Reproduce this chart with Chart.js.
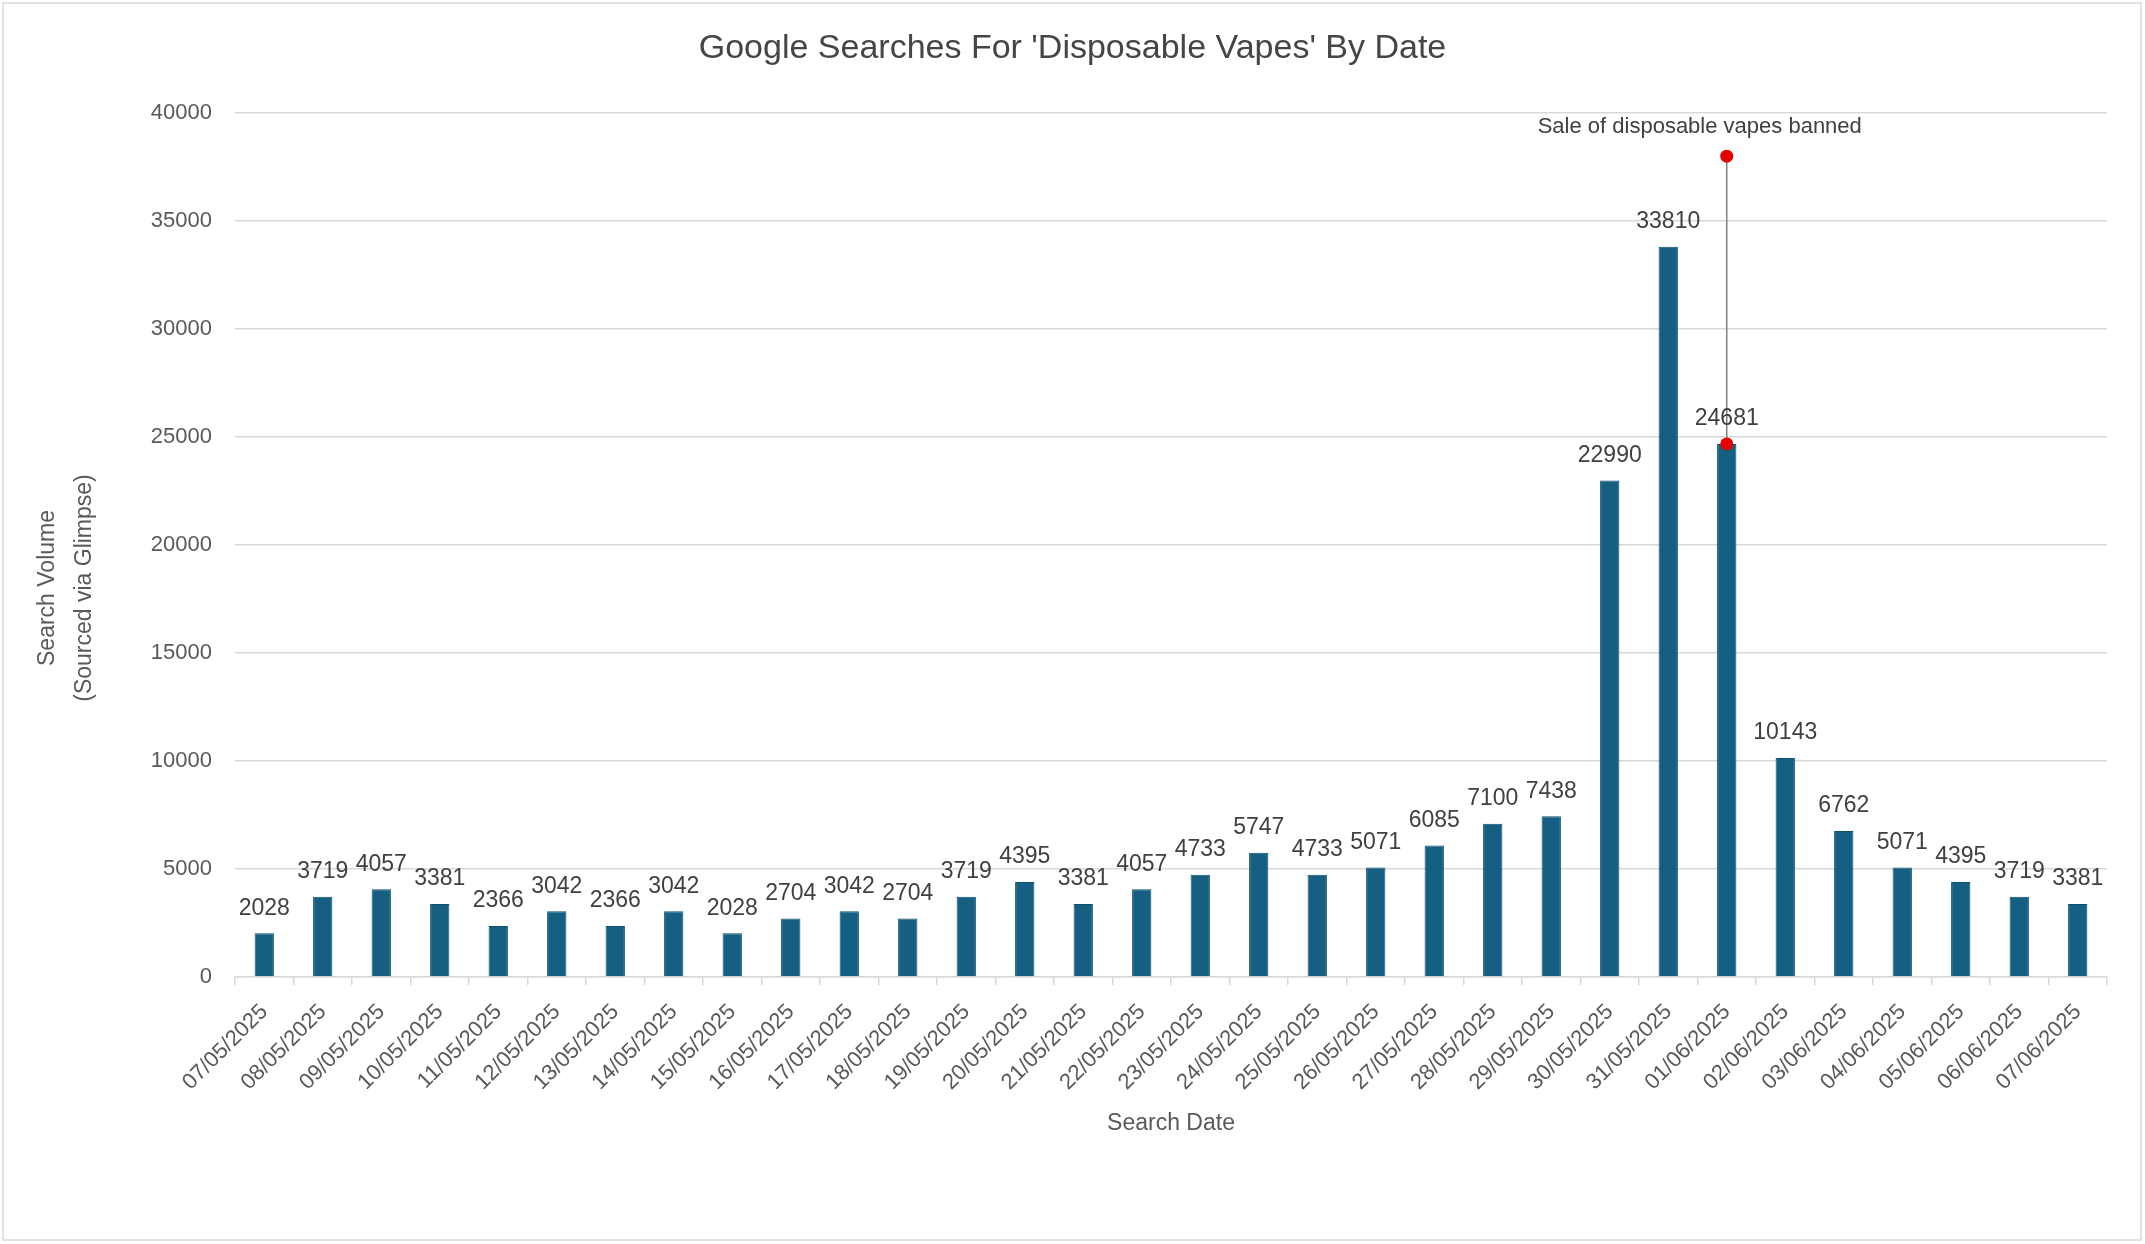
<!DOCTYPE html>
<html>
<head>
<meta charset="utf-8">
<script src="https://cdn.jsdelivr.net/npm/chart.js@4.4.1/dist/chart.umd.min.js"></script>
<style>
html,body{margin:0;padding:0;background:#ffffff;}
canvas{display:block;}
</style>
</head>
<body>
<canvas id="c" width="2145" height="1244"></canvas>
<script>
const chartTitle = "Google Searches For 'Disposable Vapes' By Date";
const xAxisTitle = 'Search Date';
const yAxisTitle = ['Search Volume', '(Sourced via Glimpse)'];

const dates = ['07/05/2025','08/05/2025','09/05/2025','10/05/2025','11/05/2025','12/05/2025','13/05/2025','14/05/2025','15/05/2025','16/05/2025','17/05/2025','18/05/2025','19/05/2025','20/05/2025','21/05/2025','22/05/2025','23/05/2025','24/05/2025','25/05/2025','26/05/2025','27/05/2025','28/05/2025','29/05/2025','30/05/2025','31/05/2025','01/06/2025','02/06/2025','03/06/2025','04/06/2025','05/06/2025','06/06/2025','07/06/2025'];
const searchVolume = [2028,3719,4057,3381,2366,3042,2366,3042,2028,2704,3042,2704,3719,4395,3381,4057,4733,5747,4733,5071,6085,7100,7438,22990,33810,24681,10143,6762,5071,4395,3719,3381];

const banDate = '01/06/2025';
const banLineValues = [38000, 24681];
const banLabel = 'Sale of disposable vapes banned';

const yMin = 0, yMax = 40000, yStep = 5000;

const FONT = "'Liberation Sans', Arial, sans-serif";
const GREY = '#595959';
const BAR_DATASET = 1;

const framePlugin = {
  id: 'frame',
  beforeDraw(chart) {
    const ctx = chart.ctx;
    ctx.save();
    ctx.fillStyle = '#ffffff';
    ctx.fillRect(0, 0, chart.width, chart.height);
    ctx.strokeStyle = '#d9d9d9';
    ctx.lineWidth = 1.5;
    ctx.strokeRect(3, 3, chart.width - 7, chart.height - 7);
    ctx.restore();
  }
};

const valueLabelPlugin = {
  id: 'valueLabels',
  afterDatasetsDraw(chart) {
    const ctx = chart.ctx;
    const meta = chart.getDatasetMeta(BAR_DATASET);
    const values = chart.data.datasets[BAR_DATASET].data;
    ctx.save();
    ctx.font = '23px ' + FONT;
    ctx.fillStyle = '#404040';
    ctx.textAlign = 'center';
    ctx.textBaseline = 'middle';
    meta.data.forEach((bar, i) => {
      ctx.fillText(String(values[i]), bar.x, bar.y - 25);
    });
    ctx.restore();
  }
};

const extraTextPlugin = {
  id: 'extraText',
  afterDraw(chart) {
    const ctx = chart.ctx;
    const xs = chart.scales.x, ys = chart.scales.y;
    ctx.save();
    ctx.font = '23px ' + FONT;
    ctx.fillStyle = GREY;
    ctx.textAlign = 'center';
    ctx.textBaseline = 'middle';
    const cy = 588;
    yAxisTitle.forEach((t, i) => {
      ctx.save();
      ctx.translate(48 + i * 37, cy);
      ctx.rotate(-Math.PI / 2);
      ctx.fillText(t, 0, 0);
      ctx.restore();
    });
    const bx = xs.getPixelForValue(dates.indexOf(banDate));
    const by = ys.getPixelForValue(banLineValues[0]);
    ctx.font = '22px ' + FONT;
    ctx.fillStyle = '#404040';
    ctx.fillText(banLabel, bx - 27, by - 29);
    ctx.restore();
  }
};

new Chart(document.getElementById('c'), {
  data: {
    labels: dates,
    datasets: [
      {
        type: 'line',
        data: banLineValues.map(v => ({x: banDate, y: v})),
        borderColor: '#808080',
        borderWidth: 1.5,
        pointRadius: 6.5,
        pointBackgroundColor: '#e60000',
        pointBorderWidth: 0,
        order: 0
      },
      {
        type: 'bar',
        data: searchVolume,
        backgroundColor: '#156082',
        borderColor: '#0f4e6b',
        borderWidth: 1,
        barPercentage: 0.33,
        categoryPercentage: 1.0,
        order: 1
      }
    ]
  },
  options: {
    responsive: false,
    animation: false,
    devicePixelRatio: 1,
    layout: {padding: {left: 38, right: 38, top: 0, bottom: 0}},
    plugins: {
      legend: {display: false},
      tooltip: {enabled: false},
      title: {
        display: true,
        text: chartTitle,
        color: '#454545',
        font: {family: FONT, size: 34, weight: 'normal'},
        padding: {top: 28.6, bottom: 43.6}
      }
    },
    scales: {
      x: {
        offset: true,
        grid: {display: true, drawOnChartArea: false, drawTicks: true, tickLength: 8, color: '#d9d9d9', lineWidth: 1.5, offset: true},
        border: {display: true, color: '#d9d9d9', width: 1.5},
        ticks: {autoSkip: false, maxRotation: 45, minRotation: 45, padding: 14, color: GREY, font: {family: FONT, size: 22}},
        title: {display: true, text: xAxisTitle, color: GREY, font: {family: FONT, size: 23}, padding: {top: 0, bottom: 107}},
        afterFit(s) { s.height = 267; }
      },
      y: {
        min: yMin, max: yMax,
        ticks: {stepSize: yStep, padding: 23, color: GREY, font: {family: FONT, size: 22}, callback: v => String(v)},
        grid: {color: '#d9d9d9', lineWidth: 1.5, drawTicks: false},
        border: {display: false},
        afterFit(s) { s.width = 197; }
      }
    }
  },
  plugins: [framePlugin, valueLabelPlugin, extraTextPlugin]
});
</script>
</body>
</html>
